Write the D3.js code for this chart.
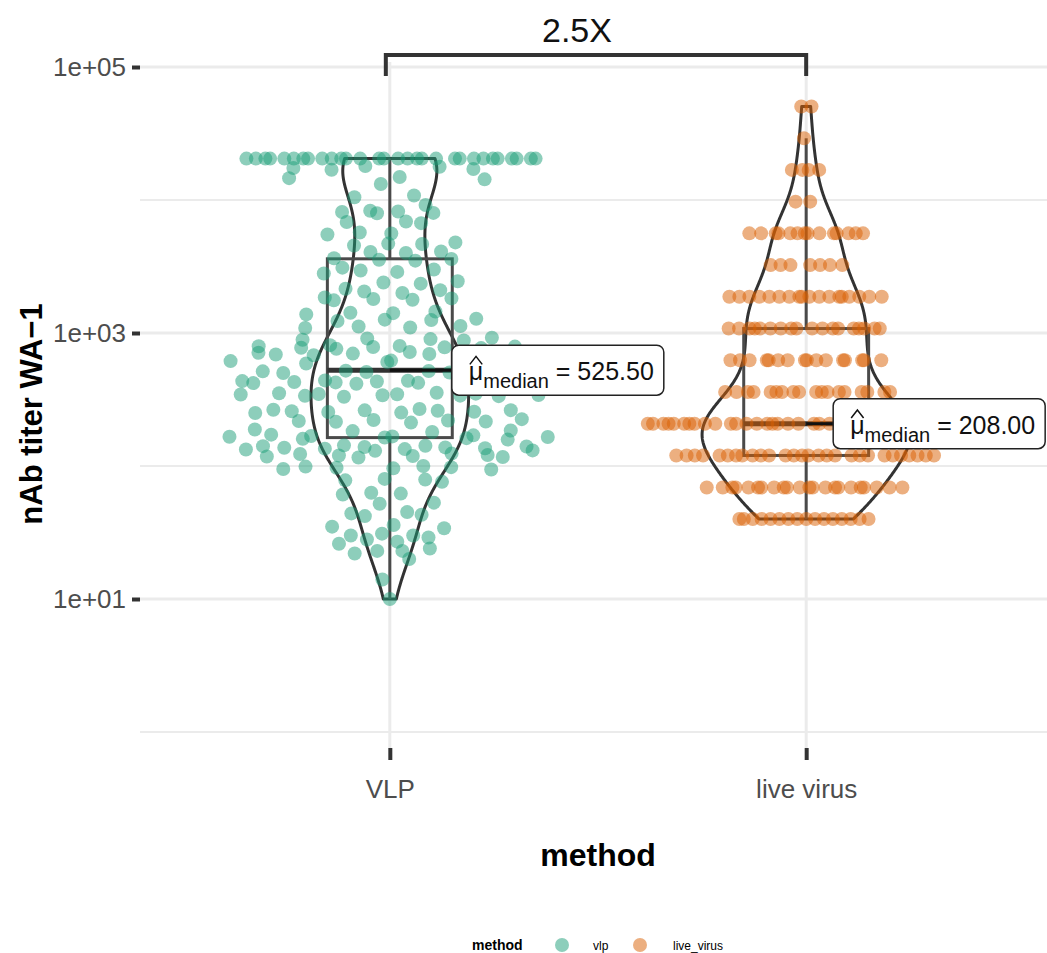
<!DOCTYPE html>
<html>
<head>
<meta charset="utf-8">
<script src="https://cdn.jsdelivr.net/npm/d3@7"></script>
<style>
  body { margin: 0; background: #fff; }
  text { font-family: "Liberation Sans", Arial, Helvetica, sans-serif; }
</style>
</head>
<body>
<svg id="chart" width="1047" height="953"></svg>
<script>
// ---- data ----
var methods = ["vlp", "live_virus"];
var methodLabels = ["VLP", "live virus"];
var methodColors = ["#1B9E77", "#D95F02"];

// VLP titers (continuous), top row = upper limit 20480
var vlpTiter = [
  20480, 20480, 20480, 20480, 20480, 20480, 20480, 20480, 20480, 20480,
  20480, 20480, 20480, 20480, 20480, 20480, 20480, 20480, 20480, 20480,
  20480, 20480, 20480, 20480, 20480, 20480, 20480, 20480, 20480, 20480,
  18000, 17800, 17400, 17100, 16900, 14900, 14600, 14300, 13200,
  10800, 10500, 9160, 8300, 8200, 8130, 8000, 7950, 6900, 6840, 6700,
  5700, 5600, 5500, 4800, 4700, 4670, 4550, 4100, 4060, 4000,
  3650, 3600, 3550, 3500,
  3100, 3000, 2950, 2880, 2800, 2450, 2400, 2350, 2150, 2100, 2050, 2000,
  1850, 1820, 1800, 1780, 1760, 1450, 1420, 1410, 1380,
  1280, 1260, 1250, 1230, 1130, 1120, 1100, 1090,
  920, 910, 900, 890, 880, 810, 800, 795, 790, 785, 780, 775, 770, 760,
  720, 710, 705, 700, 695, 690, 685, 680, 620, 615, 610, 605, 600, 590,
  530, 521, 518, 515, 512, 509, 505, 500,
  445, 440, 438, 435, 433, 432, 430, 428, 427, 425, 422, 420, 418, 415,
  355, 352, 350, 348, 346, 345, 342, 340, 338, 337, 335, 332,
  268, 265, 263, 262, 260, 258, 256, 255, 252, 250,
  225, 222, 220, 218, 216, 215, 212, 188, 185, 183, 180,
  172, 170, 168, 167, 166, 165, 164, 162, 160, 158,
  143, 142, 141, 140, 139, 138, 137, 136, 135, 134, 133, 131, 130,
  124, 123, 121, 120, 119, 118, 117, 116, 100, 99, 98, 97, 96, 95, 94,
  80, 79, 78, 76, 63, 62, 61, 53, 52, 45, 44, 43, 42, 36, 35, 34,
  31, 30, 30, 29, 28, 27, 26, 24, 23, 23, 22, 20, 14, 10
];

// live virus titers come in dilution steps: step value and how many samples sit on it
var liveTiter = [40, 69, 120, 208, 360, 624, 1080, 1871, 3240, 5612, 9720, 16836, 29100, 50508];
var liveCount = [16, 22, 28, 38, 18, 16, 18, 18, 7, 14, 2, 4, 1, 2];

var yBreaks = [10, 1000, 100000];
var yBreakLabels = ["1e+01", "1e+03", "1e+05"];
var yMinorBreaks = [1, 100, 10000];

// ---- setup ----
var svg = d3.select("#chart");
var W = 1047;
var panelTop = 62, panelBottom = 748, panelLeft = 140;

var x = d3.scaleLinear().domain([0.4, 2.6]).range([panelLeft, 1056]);
var y = d3.scaleLog().domain([1, 1e5]).range([732, 67]);

var violinWidth = 0.5, boxWidth = 0.3, pointWidth = 0.4;

var liveValues = [];
liveTiter.forEach(function (v, i) {
    for (var k = 0; k < liveCount[i]; k++) liveValues.push(v);
});

var groups = [vlpTiter, liveValues].map(function (vals, i) {
    return {
        name: methods[i],
        pos: i + 1,
        color: methodColors[i],
        values: vals,
        logs: vals.map(function (v) { return Math.log10(v); })
    };
});

// R's bw.nrd0
function bwNrd0(v) {
    var hi = d3.deviation(v);
    var lo = Math.min(hi, (d3.quantile(v, 0.75) - d3.quantile(v, 0.25)) / 1.34);
    if (!lo) lo = hi || Math.abs(v[0]) || 1;
    return 0.9 * lo * Math.pow(v.length, -0.2);
}

function kde(v, bw, t) {
    var s = 0;
    for (var i = 0; i < v.length; i++) {
        var z = (t - v[i]) / bw;
        s += Math.exp(-0.5 * z * z);
    }
    return s / (v.length * bw * Math.sqrt(2 * Math.PI));
}

function vanDerCorput(n) {
    var v = 0, denom = 1;
    while (n > 0) {
        denom *= 2;
        v += (n % 2) / denom;
        n = Math.floor(n / 2);
    }
    return v;
}

groups.forEach(function (g) {
    var lo = d3.min(g.logs), hi = d3.max(g.logs);
    g.bw = bwNrd0(g.logs);
    g.violin = d3.range(512).map(function (i) {
        var t = lo + (hi - lo) * i / 511;
        return {t: t, d: kde(g.logs, g.bw, t)};
    });

    // box stats on the log scale (like ggplot)
    g.q1 = d3.quantile(g.logs, 0.25);
    g.q2 = d3.quantile(g.logs, 0.5);
    g.q3 = d3.quantile(g.logs, 0.75);
    var iqr = g.q3 - g.q1;
    g.wlo = d3.min(g.logs.filter(function (v) { return v >= g.q1 - 1.5 * iqr - 1e-9; }));
    g.whi = d3.max(g.logs.filter(function (v) { return v <= g.q3 + 1.5 * iqr + 1e-9; }));
    g.median = d3.median(g.values);

    // quasirandom offsets (vipor style, bandwidth adjust 0.5)
    var bw2 = g.bw * 0.5;
    var from = lo - 3 * bw2, to = hi + 3 * bw2;
    var dmax = d3.max(d3.range(1024), function (i) {
        return kde(g.logs, bw2, from + (to - from) * i / 1023);
    });
    var order = d3.range(g.logs.length).sort(function (a, b) {
        return g.logs[a] - g.logs[b] || a - b;
    });
    g.points = [];
    order.forEach(function (idx, r) {
        var dens = kde(g.logs, bw2, g.logs[idx]) / dmax;
        var off = dens * (vanDerCorput(r + 1) * 2 - 1) * pointWidth;
        g.points.push({v: g.values[idx], off: off});
    });
});

var maxDens = d3.max(groups, function (g) { return d3.max(g.violin, function (d) { return d.d; }); });

// ---- grid ----
var grid = svg.append("g");
grid.selectAll("line.minor").data(yMinorBreaks).enter().append("line")
    .attr("x1", panelLeft).attr("x2", W)
    .attr("y1", function (d) { return y(d); }).attr("y2", function (d) { return y(d); })
    .attr("stroke", "#ebebeb").attr("stroke-width", 2);
grid.selectAll("line.major").data(yBreaks).enter().append("line")
    .attr("x1", panelLeft).attr("x2", W)
    .attr("y1", function (d) { return y(d); }).attr("y2", function (d) { return y(d); })
    .attr("stroke", "#ebebeb").attr("stroke-width", 3);
grid.selectAll("line.vert").data(groups).enter().append("line")
    .attr("x1", function (g) { return x(g.pos); }).attr("x2", function (g) { return x(g.pos); })
    .attr("y1", panelTop).attr("y2", panelBottom)
    .attr("stroke", "#ebebeb").attr("stroke-width", 3);

// ---- axes ----
var yAxis = svg.append("g")
    .attr("transform", "translate(" + panelLeft + ",0)")
    .call(d3.axisLeft(y).tickValues(yBreaks)
        .tickFormat(function (d, i) { return yBreakLabels[i]; })
        .tickSize(8).tickPadding(6));
yAxis.select(".domain").remove();
yAxis.selectAll(".tick line").attr("stroke", "#333").attr("stroke-width", 4);
yAxis.selectAll(".tick text").attr("fill", "#4d4d4d")
    .style("font-size", "26px").style("font-family", "'Liberation Sans', Arial, sans-serif");

var xAxis = svg.append("g")
    .attr("transform", "translate(0," + panelBottom + ")")
    .call(d3.axisBottom(x).tickValues([1, 2])
        .tickFormat(function (d) { return methodLabels[d - 1]; })
        .tickSize(12).tickPadding(20));
xAxis.select(".domain").remove();
xAxis.selectAll(".tick line").attr("stroke", "#333").attr("stroke-width", 4);
xAxis.selectAll(".tick text").attr("fill", "#4d4d4d")
    .style("font-size", "26px").style("font-family", "'Liberation Sans', Arial, sans-serif");

svg.append("text")
    .attr("x", x(1.5)).attr("y", 866)
    .attr("text-anchor", "middle")
    .style("font-size", "32px").style("font-weight", "bold")
    .text("method");

svg.append("text")
    .attr("transform", "translate(42,414) rotate(-90)")
    .attr("text-anchor", "middle")
    .style("font-size", "31px").style("font-weight", "bold")
    .text("nAb titer WA\u22121");

// ---- violins ----
var violinArea = d3.area()
    .y(function (d) { return y(Math.pow(10, d.t)); });

groups.forEach(function (g) {
    violinArea
        .x0(function (d) { return x(g.pos - violinWidth / 2 * d.d / maxDens); })
        .x1(function (d) { return x(g.pos + violinWidth / 2 * d.d / maxDens); });
    svg.append("path")
        .datum(g.violin)
        .attr("d", violinArea)
        .attr("fill", "none")
        .attr("stroke", "#333")
        .attr("stroke-width", 3)
        .attr("stroke-linejoin", "round");
});

// ---- boxes ----
var boxes = svg.append("g").attr("stroke", "#4a4a4a").attr("fill", "none");
groups.forEach(function (g) {
    var bx = svg.append("g");
    boxes.append("line")
        .attr("x1", x(g.pos)).attr("x2", x(g.pos))
        .attr("y1", y(Math.pow(10, g.whi))).attr("y2", y(Math.pow(10, g.q3)))
        .attr("stroke-width", 3);
    boxes.append("line")
        .attr("x1", x(g.pos)).attr("x2", x(g.pos))
        .attr("y1", y(Math.pow(10, g.q1))).attr("y2", y(Math.pow(10, g.wlo)))
        .attr("stroke-width", 3);
    boxes.append("rect")
        .attr("x", x(g.pos - boxWidth / 2))
        .attr("width", x(g.pos + boxWidth / 2) - x(g.pos - boxWidth / 2))
        .attr("y", y(Math.pow(10, g.q3)))
        .attr("height", y(Math.pow(10, g.q1)) - y(Math.pow(10, g.q3)))
        .attr("stroke-width", 3);
    boxes.append("line")
        .attr("x1", x(g.pos - boxWidth / 2)).attr("x2", x(g.pos + boxWidth / 2))
        .attr("y1", y(Math.pow(10, g.q2))).attr("y2", y(Math.pow(10, g.q2)))
        .attr("stroke", "#333")
        .attr("stroke-width", 5);
});

// ---- points ----
groups.forEach(function (g) {
    svg.append("g").selectAll("circle")
        .data(g.points)
        .enter().append("circle")
        .attr("cx", function (d) { return x(g.pos + d.off); })
        .attr("cy", function (d) { return y(d.v); })
        .attr("r", 7)
        .attr("fill", g.color)
        .attr("fill-opacity", 0.5);
});

// ---- median labels ----
var labelNudge = [62, 27];   // px from group centre to label box (ggrepel placement)
groups.forEach(function (g, i) {
    var my = y(g.median);
    var lx = x(g.pos) + labelNudge[i];

    svg.append("line")
        .attr("x1", x(g.pos)).attr("x2", lx)
        .attr("y1", my).attr("y2", my)
        .attr("stroke", "#111").attr("stroke-width", 3);

    var lab = svg.append("g").attr("transform", "translate(" + lx + "," + my + ")");
    var rect = lab.append("rect");
    var t = lab.append("text").attr("x", 17).attr("y", 10)
        .style("font-size", "25px").attr("fill", "#111");
    t.append("tspan").text("\u03bc");
    t.append("tspan").attr("dy", 8).style("font-size", "20px").text("median");
    t.append("tspan").attr("dy", -8).text(" = " + d3.format(".2f")(g.median));

    var mu = t.node().getExtentOfChar(0);
    var top = 10 - 25 * 0.55;
    lab.append("path")
        .attr("d", "M" + (mu.x + 1) + "," + (top - 2) + "L" + (mu.x + mu.width / 2) + "," + (top - 10) +
            "L" + (mu.x + mu.width - 1) + "," + (top - 2))
        .attr("fill", "none").attr("stroke", "#111").attr("stroke-width", 1.5);

    var bb = t.node().getBBox();
    rect.attr("x", 0).attr("y", -25)
        .attr("width", bb.x + bb.width + 10).attr("height", 50)
        .attr("rx", 7)
        .attr("fill", "#fff").attr("stroke", "#222").attr("stroke-width", 1.5);
});

// ---- comparison bracket ----
var bracketValue = 123000;
var ratio = groups[0].median / groups[1].median;
svg.append("path")
    .attr("d", "M" + (x(1) - 4) + "," + (y(bracketValue) + 21) +
        "V" + y(bracketValue) + "H" + x(2) + "V" + (y(bracketValue) + 21))
    .attr("fill", "none").attr("stroke", "#333").attr("stroke-width", 4);
svg.append("text")
    .attr("x", (x(1) + x(2)) / 2 - 21).attr("y", 42)
    .attr("text-anchor", "middle")
    .style("font-size", "34px").attr("fill", "#111")
    .text(d3.format(".1f")(ratio) + "X");

// ---- legend ----
var legend = svg.append("g").attr("transform", "translate(0,950)");
legend.append("text").attr("x", 472).attr("y", 0)
    .style("font-size", "14px").style("font-weight", "bold").text("method");
var items = [{x: 562, tx: 593}, {x: 640, tx: 673}];
items.forEach(function (it, i) {
    legend.append("circle").attr("cx", it.x).attr("cy", -5).attr("r", 7)
        .attr("fill", methodColors[i]).attr("fill-opacity", 0.5);
    legend.append("text").attr("x", it.tx).attr("y", 0)
        .style("font-size", "12px").text(methods[i]);
});
</script>
</body>
</html>
